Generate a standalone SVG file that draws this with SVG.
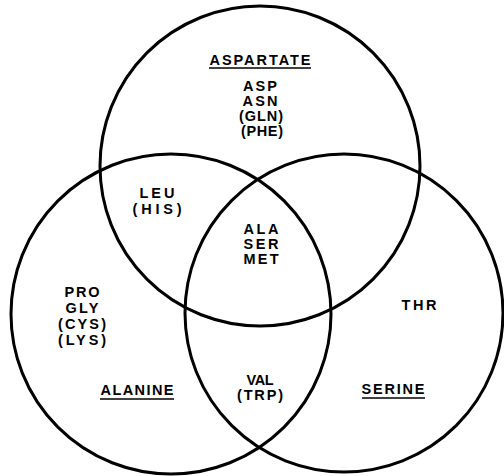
<svg xmlns="http://www.w3.org/2000/svg" width="504" height="476" viewBox="0 0 504 476">
<style>
.c{fill:none;stroke:#000;stroke-width:3}
.t{font-family:"Liberation Sans",Arial,sans-serif;font-weight:bold;font-size:14.5px;fill:#000;text-anchor:middle}
.u{stroke:#000;stroke-width:1.6}
</style>
<rect width="504" height="476" fill="#fff"/>
<g id="circles">
<circle id="circle-aspartate" class="c" cx="260" cy="166" r="160"/>
<circle id="circle-alanine" class="c" cx="171" cy="314" r="160"/>
<circle id="circle-serine" class="c" cx="344" cy="313" r="159"/>
</g>
<g id="connectors"></g>
<g id="aspartate">
<text class="t" x="260" y="65" textLength="101" lengthAdjust="spacing">ASPARTATE</text>
<line class="u" x1="209" y1="68" x2="311" y2="68"/>
</g>
<g id="aspartate-only">
<text class="t" x="260" y="91" textLength="34" lengthAdjust="spacing">ASP</text>
<text class="t" x="260" y="106" textLength="35" lengthAdjust="spacing">ASN</text>
<text class="t" x="261" y="121" textLength="44" lengthAdjust="spacing">(GLN)</text>
<text class="t" x="262" y="136" textLength="42" lengthAdjust="spacing">(PHE)</text>
</g>
<g id="aspartate-alanine">
<text class="t" x="157" y="198" textLength="35" lengthAdjust="spacing">LEU</text>
<text class="t" x="157" y="213.5" textLength="49" lengthAdjust="spacing">(HIS)</text>
</g>
<g id="all-three">
<text class="t" x="261" y="234" textLength="35" lengthAdjust="spacing">ALA</text>
<text class="t" x="261" y="249" textLength="35" lengthAdjust="spacing">SER</text>
<text class="t" x="261" y="264" textLength="35" lengthAdjust="spacing">MET</text>
</g>
<g id="alanine-only">
<text class="t" x="82" y="297" textLength="35" lengthAdjust="spacing">PRO</text>
<text class="t" x="82" y="313" textLength="33" lengthAdjust="spacing">GLY</text>
<text class="t" x="82" y="329" textLength="48" lengthAdjust="spacing">(CYS)</text>
<text class="t" x="82" y="345" textLength="48" lengthAdjust="spacing">(LYS)</text>
</g>
<g id="serine-only">
<text class="t" x="419" y="310" textLength="35" lengthAdjust="spacing">THR</text>
</g>
<g id="alanine">
<text class="t" x="137" y="395" textLength="73" lengthAdjust="spacing">ALANINE</text>
<line class="u" x1="100" y1="399" x2="174" y2="399"/>
</g>
<g id="alanine-serine">
<text class="t" x="260" y="385" textLength="27" lengthAdjust="spacing">VAL</text>
<text class="t" x="260" y="400" textLength="46" lengthAdjust="spacing">(TRP)</text>
</g>
<g id="serine">
<text class="t" x="393" y="394" textLength="63" lengthAdjust="spacing">SERINE</text>
<line class="u" x1="362" y1="398" x2="425" y2="398"/>
</g>
</svg>
